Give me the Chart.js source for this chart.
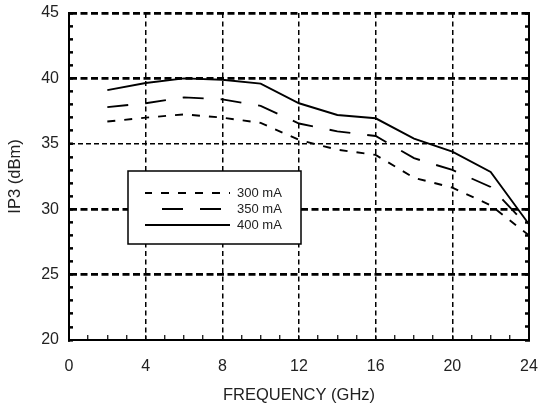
<!DOCTYPE html>
<html>
<head>
<meta charset="utf-8">
<title>IP3 vs Frequency</title>
<script src="https://cdn.jsdelivr.net/npm/chart.js@4.4.1/dist/chart.umd.min.js"></script>
<style>
  body { margin: 0; background: #fff; }
  #ip3Chart { display: block; }
</style>
</head>
<body>
<canvas id="ip3Chart" width="539" height="410"></canvas>
<script>
// values
const freqGHz = [2, 4, 6, 8, 10, 12, 14, 16, 18, 20, 22, 24];
const ip3_300mA = [36.7, 37.0, 37.25, 37.0, 36.6, 35.3, 34.55, 34.15, 32.4, 31.65, 30.3, 28.0];
const ip3_350mA = [37.8, 38.1, 38.55, 38.4, 37.9, 36.55, 35.95, 35.6, 33.9, 33.0, 31.7, 28.6];
const ip3_400mA = [39.1, 39.65, 40.0, 39.9, 39.6, 38.1, 37.2, 36.95, 35.4, 34.4, 32.85, 28.85];
const seriesLabels = ['300 mA', '350 mA', '400 mA'];

const xTickLabels = [0, 4, 8, 12, 16, 20, 24];
const yTickLabels = [20, 25, 30, 35, 40, 45];

const textColor = '#222';
const fontFamily = '"Liberation Sans", Arial, sans-serif';

const toPoints = ys => freqGHz.map((f, i) => ({ x: f, y: ys[i] }));

// chart.js adds ticks.padding to the edge padding, drop it so the plot area stays put
const noEdgePadding = s => { s.paddingLeft = s.paddingRight = s.paddingTop = s.paddingBottom = 0; };

// boxed legend drawn inside the plot, over the grid
const legendBox = {
  id: 'legendBox',
  afterDatasetsDraw(chart) {
    const { ctx, chartArea: a } = chart;
    const left = a.left + 59, top = a.top + 158, w = 173, h = 73;
    ctx.save();
    ctx.fillStyle = '#fff';
    ctx.fillRect(left, top, w, h);
    ctx.lineWidth = 1.5;
    ctx.strokeStyle = '#000';
    ctx.strokeRect(left, top, w, h);
    chart.data.datasets.forEach((ds, i) => {
      const y = top + 22 + i * 16;
      ctx.beginPath();
      ctx.setLineDash(ds.borderDash || []);
      ctx.lineDashOffset = ds.legendDashOffset || 0;
      ctx.lineWidth = ds.borderWidth;
      ctx.strokeStyle = ds.borderColor;
      ctx.moveTo(left + 17, y);
      ctx.lineTo(left + 102, y);
      ctx.stroke();
      ctx.setLineDash([]);
      ctx.fillStyle = textColor;
      ctx.font = '13px ' + fontFamily;
      ctx.textBaseline = 'middle';
      ctx.fillText(ds.label, left + 109, y);
    });
    ctx.restore();
  }
};

const ctx = document.getElementById('ip3Chart').getContext('2d');
const ip3Chart = new Chart(ctx, {
  type: 'line',
  data: {
    datasets: [{
      label: seriesLabels[0],
      data: toPoints(ip3_300mA),
      borderColor: '#000',
      borderWidth: 1.9,
      borderDash: [8, 9],
      legendDashOffset: 1
    }, {
      label: seriesLabels[1],
      data: toPoints(ip3_350mA),
      borderColor: '#000',
      borderWidth: 1.9,
      borderDash: [21, 17],
      legendDashOffset: 21
    }, {
      label: seriesLabels[2],
      data: toPoints(ip3_400mA),
      borderColor: '#000',
      borderWidth: 1.9
    }]
  },
  options: {
    responsive: false,
    animation: false,
    layout: { padding: { left: 0, right: 0, top: 13, bottom: 0 } },
    elements: { point: { radius: 0 }, line: { tension: 0, fill: false } },
    scales: {
      x: {
        type: 'linear',
        min: 0, max: 24,
        afterFit: s => { s.height = 70; noEdgePadding(s); },
        ticks: {
          stepSize: 1, autoSkip: false, maxRotation: 0, padding: 22,
          color: textColor, font: { family: fontFamily, size: 16 },
          callback: v => xTickLabels.includes(v) ? v : ''
        },
        grid: {
          lineWidth: 1.5,
          color: c => (xTickLabels.includes(c.tick.value) && c.tick.value > 0 && c.tick.value < 24) ? '#000' : 'transparent',
          tickLength: -5, tickWidth: 1.2, tickColor: '#000'
        },
        border: { display: true, color: '#000', width: 2, dash: [5, 3.5] },
        title: {
          display: true, text: 'FREQUENCY (GHz)', color: textColor,
          font: { family: fontFamily, size: 16.5 }, padding: { top: 5, bottom: 5 }
        }
      },
      y: {
        min: 20, max: 45,
        afterFit: s => { s.width = 69; noEdgePadding(s); },
        ticks: {
          stepSize: 1, autoSkip: false, padding: 14,
          color: textColor, font: { family: fontFamily, size: 16 },
          callback: v => yTickLabels.includes(v) ? v : ''
        },
        grid: {
          lineWidth: c => c.tick.value === 35 ? 1.4 : 2.7,
          color: c => (yTickLabels.includes(c.tick.value) && c.tick.value > 20) ? '#000' : 'transparent',
          tickLength: -4, tickWidth: 2.5, tickColor: '#000'
        },
        border: {
          display: true, color: '#000', width: 2,
          dash: c => (c.tick && c.tick.value === 35) ? [5, 3] : [7, 3.5]
        },
        title: {
          display: true, text: 'IP3 (dBm)', color: textColor,
          font: { family: fontFamily, size: 16.5 }, padding: { top: 6, bottom: 6 }
        }
      },
      y2: {
        position: 'right',
        min: 20, max: 45,
        afterFit: s => { s.width = 10; noEdgePadding(s); },
        ticks: { stepSize: 1, autoSkip: false, padding: 0, callback: () => '' },
        grid: { drawOnChartArea: false, tickLength: -4, tickWidth: 2.5, tickColor: '#000' },
        border: { display: true, color: '#000', width: 2 }
      }
    },
    plugins: { legend: { display: false }, tooltip: { enabled: false } }
  },
  plugins: [legendBox]
});
</script>
</body>
</html>
